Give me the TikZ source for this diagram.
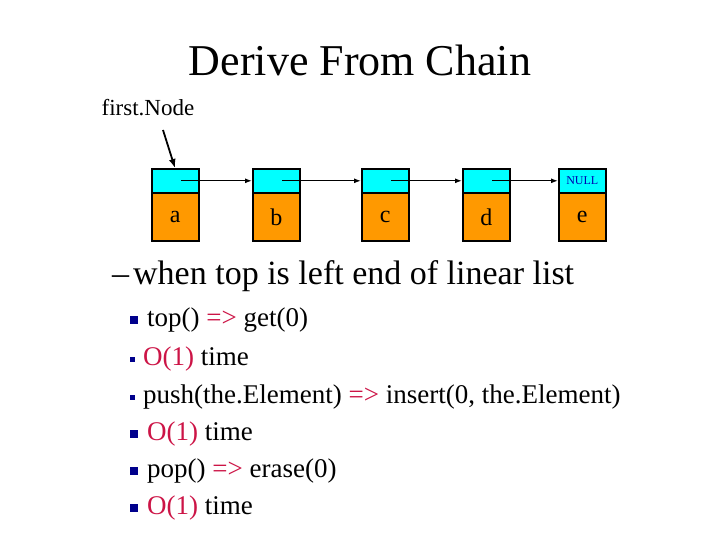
\documentclass[tikz,border=0pt]{standalone}
\usepackage{fontspec}
\setmainfont{Liberation Serif}
\usetikzlibrary{arrows.meta,calc}
\definecolor{cy}{RGB}{0,255,255}
\definecolor{org}{RGB}{255,153,0}
\definecolor{rd}{RGB}{204,20,70}
\definecolor{nv}{RGB}{0,0,140}
\begin{document}
\begin{tikzpicture}[x=1pt,y=-1pt,
  ptr/.style={draw,fill=cy,line width=1.6pt,minimum width=47pt,minimum height=24pt,inner sep=0pt,anchor=north west},
  dat/.style={draw,fill=org,line width=1.6pt,minimum width=47pt,minimum height=48pt,inner sep=0pt,anchor=north west,font=\fontsize{24}{26}\selectfont},
  link/.style={line width=1.2pt,-{Latex[length=7pt,width=5pt]}},
  txt/.style={anchor=west,inner sep=0pt,font=\fontsize{27}{30}\selectfont},
  bul/.style={fill=nv,minimum size=8pt,inner sep=0pt}]
\useasboundingbox (0,0) rectangle (720,540);
\node (title) at (360,60) {\fontsize{44}{48}\selectfont Derive From Chain};
\node (fn) at (148,108) {\fontsize{23}{25}\selectfont first.Node};
\foreach \n/\x/\l in {a/151/a,b/252/b,c/361/c,d/462/d,e/558/e}{
  \node[ptr] (p\n) at (\x,168) {};
  \node[dat] (d\n) at (\x,192) {\l};
}
\node[font=\fontsize{12}{13}\selectfont,text=blue!70!black] at (pe) {NULL};
\coordinate (fs) at (163,130);
\draw[line width=1.8pt,-{Latex[length=9pt,width=7pt]}] (fs) -- ($(pa.north west)+(24,0)$);
\foreach \s/\t in {a/b,b/c,c/d,d/e}{
  \draw[link] ($(p\s.center)+(6,0)$) -- (p\t.west);
}
\node[anchor=west,inner sep=0pt,font=\fontsize{34}{36}\selectfont] (w) at (112,276) {–\hspace{4pt}when top is left end of linear list};
\node[bul] (b1) at (134,320) {};
\node[txt] (l1) at (147,320) {top() \textcolor{rd}{=>} get(0)};
\node[bul,minimum size=5pt] (b2) at (132,359) {};
\node[txt] (l2) at (143,359) {\textcolor{rd}{O(1)} time};
\node[bul,minimum size=5pt] (b3) at (132,397) {};
\node[txt] (l3) at (143,397) {push(the.Element) \textcolor{rd}{=>} insert(0, the.Element)};
\node[bul] (b4) at (134,434) {};
\node[txt] (l4) at (147,434) {\textcolor{rd}{O(1)} time};
\node[bul] (b5) at (134,471) {};
\node[txt] (l5) at (147,471) {pop() \textcolor{rd}{=>} erase(0)};
\node[bul] (b6) at (134,508) {};
\node[txt] (l6) at (147,508) {\textcolor{rd}{O(1)} time};
\end{tikzpicture}
\end{document}
